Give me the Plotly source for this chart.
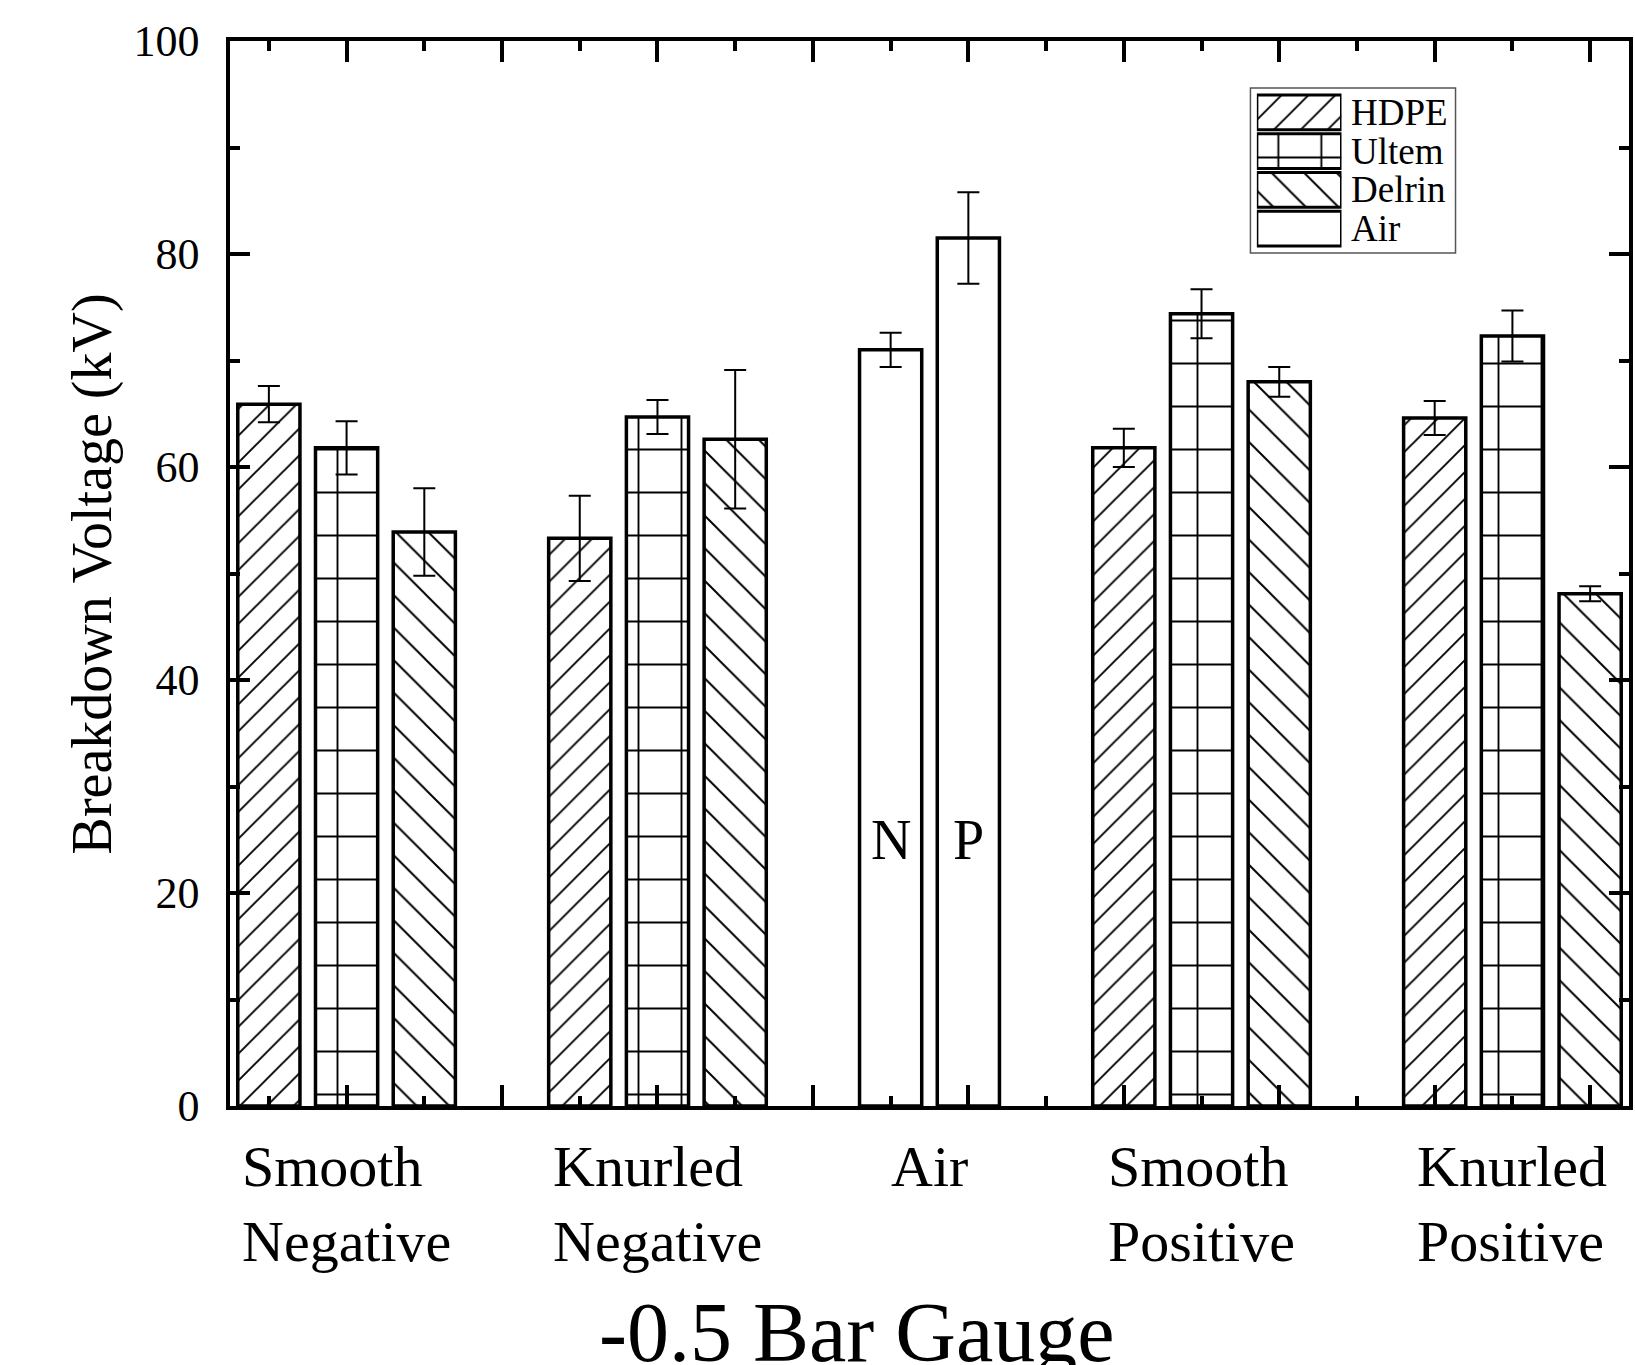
import plotly.graph_objects as go

FONT = "Liberation Serif"

# ---- data -------------------------------------------------------------
groups = ["Smooth<br>Negative", "Knurled<br>Negative", "Air",
          "Smooth<br>Positive", "Knurled<br>Positive"]
electrode_groups = ["Smooth<br>Negative", "Knurled<br>Negative",
                    "Smooth<br>Positive", "Knurled<br>Positive"]
materials = ["HDPE", "Ultem", "Delrin"]

hdpe = [65.9, 53.3, 61.8, 64.6]
hdpe_err = [1.7, 4.0, 1.8, 1.6]
ultem = [61.8, 64.7, 74.4, 72.3]
ultem_err = [2.5, 1.6, 2.3, 2.4]
delrin = [53.9, 62.6, 68.0, 48.1]
delrin_err = [4.1, 6.5, 1.4, 0.7]

air_labels = ["N", "P"]
air = [71.0, 81.5]
air_err = [1.6, 4.3]

legend_names = ["HDPE", "Ultem", "Delrin", "Air"]
y_ticks = [0, 20, 40, 60, 80, 100]

# ---- slot positions: one unit per bar, one empty unit between groups ----
slots, centers = {}, {}
pos = 1
for g in groups:
    n = len(air) if g == "Air" else len(materials)
    slots[g] = list(range(pos, pos + n))
    centers[g] = pos + (n - 1) / 2
    pos += n + 1

patterns = {
    "HDPE": dict(shape="/", size=19, solidity=0.1),
    "Ultem": dict(shape="+", size=43, solidity=0.085),
    "Delrin": dict(shape="\\", size=23, solidity=0.085),
    "Air": dict(shape=""),
}


def bar_marker(name):
    return dict(color="white", line=dict(color="black", width=3.5),
                pattern=dict(fgcolor="black", bgcolor="white", fgopacity=1,
                             **patterns[name]))


def err(vals):
    return dict(type="data", array=vals, visible=True, color="black",
                thickness=2, width=11)


fig = go.Figure()

series = {"HDPE": (hdpe, hdpe_err), "Ultem": (ultem, ultem_err),
          "Delrin": (delrin, delrin_err)}
for i, m in enumerate(materials):
    vals, errs = series[m]
    fig.add_trace(go.Bar(
        x=[slots[g][i] for g in electrode_groups], y=vals, width=0.8,
        name=m, marker=bar_marker(m), error_y=err(errs), showlegend=False))

fig.add_trace(go.Bar(
    x=slots["Air"], y=air, width=0.8, name="Air",
    marker=bar_marker("Air"), error_y=err(air_err), showlegend=False))

# ---- legend drawn as an inset of large patterned swatches ----
fig.add_trace(go.Bar(
    x=[1] * len(legend_names), y=legend_names, orientation="h", width=0.9,
    xaxis="x2", yaxis="y2", showlegend=False, hoverinfo="skip",
    marker=dict(color="white", line=dict(color="black", width=3),
                pattern=dict(
                    fgcolor="black", bgcolor="white", fgopacity=1,
                    shape=[patterns[n]["shape"] for n in legend_names],
                    size=[patterns[n].get("size", 10) for n in legend_names],
                    solidity=[patterns[n].get("solidity", 0.2) for n in legend_names]))))

annotations = []
for n in legend_names:
    annotations.append(dict(x=1.09, xref="x2 domain", y=n, yref="y2",
                            text=n, showarrow=False, xanchor="left",
                            yanchor="middle",
                            font=dict(family=FONT, size=37, color="black")))

for g in groups:
    annotations.append(dict(x=centers[g], xref="x", y=0, yref="paper",
                            yanchor="top", yshift=-26, text=g, align="left",
                            showarrow=False,
                            font=dict(family=FONT, size=58, color="black")))

for s, lab in zip(slots["Air"], air_labels):
    annotations.append(dict(x=s, y=25, text=lab, showarrow=False,
                            font=dict(family=FONT, size=56, color="black")))

annotations.append(dict(x=0.448, xref="paper", y=0, yref="paper",
                        yanchor="top", yshift=-178, text="-0.5 Bar Gauge",
                        showarrow=False,
                        font=dict(family=FONT, size=84, color="black")))
annotations.append(dict(x=-0.098, xref="paper", y=0.5, yref="paper",
                        text="Breakdown Voltage (kV)", textangle=-90,
                        showarrow=False, xanchor="center", yanchor="middle",
                        font=dict(family=FONT, size=56, color="black")))

axis_common = dict(showline=True, linewidth=3.5, linecolor="black",
                   mirror="ticks", ticks="inside", tickwidth=3.5,
                   tickcolor="black", showgrid=False, zeroline=False)

fig.update_layout(
    width=1635, height=1365,
    margin=dict(l=230, r=2, t=41, b=259),
    paper_bgcolor="white", plot_bgcolor="white",
    font=dict(family=FONT, color="black"),
    showlegend=False,
    annotations=annotations,
    xaxis=dict(range=[0.5, 18.5], showticklabels=False, tickmode="linear",
               tick0=0, dtick=2, ticklen=21,
               minor=dict(ticks="inside", ticklen=10, tickwidth=3.5,
                          tickcolor="black", tick0=0, dtick=1),
               **axis_common),
    yaxis=dict(range=[0, 100], tickvals=y_ticks,
               ticktext=[str(v) for v in y_ticks], ticklen=20,
               tickfont=dict(family=FONT, size=44, color="black"),
               ticklabelstandoff=18,
               minor=dict(ticks="inside", ticklen=10, tickwidth=3.5,
                          tickcolor="black", dtick=10, tick0=0),
               **axis_common),
    xaxis2=dict(domain=[0.734, 0.7945], range=[0, 1], visible=False,
                anchor="y2"),
    yaxis2=dict(domain=[0.8056, 0.9512], range=[3.5, -0.5], visible=False,
                anchor="x2", type="category"),
    shapes=[dict(type="rect", xref="paper", yref="paper",
                 x0=0.7294, x1=0.876, y0=0.8009, y1=0.9559,
                 line=dict(color="#555555", width=1.5), fillcolor="rgba(0,0,0,0)",
                 layer="below")],
)

fig.write_html("out.html")
